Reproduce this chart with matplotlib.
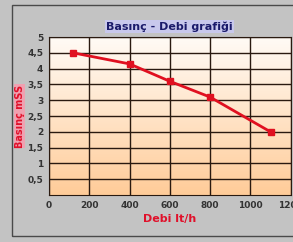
import numpy as np
import matplotlib
matplotlib.use("Agg")
import matplotlib.pyplot as plt
from matplotlib.patches import Rectangle
from matplotlib import font_manager

# data
debi = [120, 400, 600, 800, 1100]
basinc = [4.5, 4.15, 3.6, 3.1, 2.0]
x_ticks = [0, 200, 400, 600, 800, 1000, 1200]
y_ticks = [0.5, 1, 1.5, 2, 2.5, 3, 3.5, 4, 4.5, 5]
y_labels = ["0,5", "1", "1,5", "2", "2,5", "3", "3,5", "4", "4,5", "5"]

names = {f.name for f in font_manager.fontManager.ttflist}
font = [n for n in ["Liberation Sans Narrow", "DejaVu Sans"] if n in names]

fig = plt.figure(figsize=(2.93, 2.42), dpi=100, facecolor="#c3c3c3")
fig.patches.append(Rectangle((0.041, 0.025), 1.0, 0.955, transform=fig.transFigure,
                             fill=False, edgecolor="#4a4a4a", linewidth=1))

ax = fig.add_axes([0.167, 0.194, 0.825, 0.653])

# gradient background, white at top to peach at bottom
top = np.array([1.0, 0.985, 0.965])
bottom = np.array([1.0, 0.80, 0.60])
t = np.linspace(0, 1, 100)[:, None]
grad = (top * (1 - t) + bottom * t)[:, None, :]
ax.imshow(grad, extent=[0, 1200, 0, 5], origin="upper", aspect="auto", zorder=0)
ax.set_xlim(0, 1200)
ax.set_ylim(0, 5)

ax.set_xticks(x_ticks)
ax.set_yticks(y_ticks)
ax.set_yticklabels(y_labels)
ax.grid(True, color="#2a1a10", linewidth=1)
ax.set_axisbelow(False)
for s in ax.spines.values():
    s.set_color("#2a1a10")
ax.tick_params(length=0, pad=4, colors="#333333")
for lab in ax.get_xticklabels() + ax.get_yticklabels():
    lab.set_family(font)
    lab.set_fontsize(6.5)
    lab.set_fontweight("bold")

ax.plot(debi, basinc, color="#e01020", linewidth=2, marker="s", markersize=5, zorder=5,
        clip_on=False)

ax.set_title("Basınç - Debi grafiği", family=font, fontsize=8, fontweight="bold",
             color="#1a1a6a", pad=5,
             bbox=dict(facecolor="#c8c8ec", edgecolor="none", pad=1))
ax.set_xlabel("Debi lt/h", family=font, fontsize=8, fontweight="bold", color="#e0102a",
              labelpad=3)
ax.set_ylabel("Basınç mSS", family=font, fontsize=7, fontweight="bold", color="#e0102a",
              labelpad=2, bbox=dict(facecolor="#f0a0b0", edgecolor="none", pad=0.5))

fig.savefig("out.png", dpi=100, facecolor=fig.get_facecolor())
